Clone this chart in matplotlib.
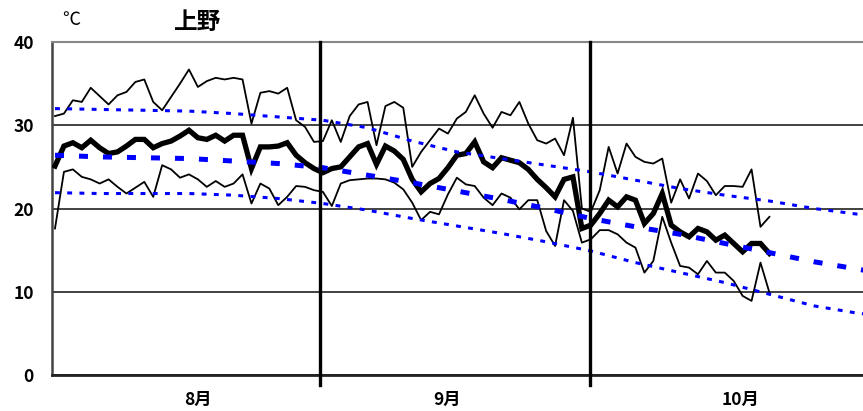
import numpy as np
import matplotlib
matplotlib.use('Agg')
import matplotlib.pyplot as plt
import matplotlib.transforms as mtransforms

plt.rcParams['font.family'] = ['Noto Sans CJK JP', 'DejaVu Sans']

# 日別データ（8/2 ～ 10/21 相当、81日分）
max_t = [31.1, 31.4, 33.0, 32.8, 34.5, 33.5, 32.5, 33.6, 34.0, 35.2, 35.5, 32.8, 31.8, 33.4, 35.0, 36.7,
         34.6, 35.3, 35.7, 35.5, 35.7, 35.5, 30.2, 33.9, 34.1, 33.8, 34.5, 30.6, 29.8, 28.0, 28.1,
         30.6, 28.0, 31.1, 32.5, 32.8, 27.6, 32.3, 32.8, 32.1, 25.0, 26.8, 28.2, 29.6, 29.0, 30.8,
         31.6, 33.6, 31.4, 29.7, 31.6, 31.2, 32.8, 30.2, 28.2, 27.8, 28.4, 26.4, 30.9, 20.0, 19.6,
         22.2, 27.4, 24.2, 27.8, 26.2, 25.6, 25.4, 26.0, 20.7, 23.5, 21.2, 24.2, 23.3, 21.6, 22.7,
         22.7, 22.6, 24.7, 17.8, 19.0]
mean_t = [25.1, 27.5, 27.9, 27.3, 28.2, 27.3, 26.6, 26.8, 27.5, 28.3, 28.3, 27.3, 27.8, 28.1, 28.7, 29.4,
          28.5, 28.3, 28.8, 28.1, 28.8, 28.8, 24.8, 27.4, 27.4, 27.5, 27.9, 26.4, 25.5, 24.8, 24.3,
          24.8, 25.0, 26.2, 27.4, 27.8, 25.3, 27.5, 26.9, 25.9, 23.5, 22.0, 23.0, 23.6, 24.9, 26.4,
          26.6, 28.0, 25.6, 24.9, 26.1, 25.8, 25.5, 24.7, 23.5, 22.5, 21.4, 23.5, 23.8, 17.6, 18.0,
          19.4, 21.0, 20.2, 21.4, 21.0, 18.2, 19.4, 21.8, 18.0, 17.2, 16.6, 17.6, 17.2, 16.2, 16.8,
          15.8, 14.8, 15.8, 15.8, 14.6]
min_t = [17.6, 24.4, 24.7, 23.8, 23.5, 23.0, 23.5, 22.6, 21.8, 22.5, 23.2, 21.4, 25.2, 24.7, 23.7, 24.1,
         23.5, 22.6, 23.3, 22.6, 23.0, 24.1, 20.6, 23.0, 22.4, 20.4, 21.4, 22.7, 22.6, 22.2, 22.0,
         20.3, 23.0, 23.4, 23.5, 23.6, 23.6, 23.5, 23.1, 22.3, 20.7, 18.6, 19.6, 19.3, 21.7, 23.7,
         22.9, 22.7, 21.3, 20.4, 21.8, 21.3, 19.9, 21.0, 21.0, 17.3, 15.5, 21.0, 19.7, 15.9, 16.3,
         17.4, 17.4, 16.9, 15.9, 15.3, 12.3, 13.7, 19.0, 15.9, 13.1, 12.9, 12.1, 13.7, 12.3, 12.3,
         11.3, 9.5, 8.9, 13.5, 9.9]

# 平年値（5日ごと）
norm_day = [0, 5, 10, 15, 20, 25, 30, 35, 40, 45, 50, 55, 60, 65, 70, 75, 80, 85, 90, 91]
norm_max = [32.0, 31.9, 31.8, 31.7, 31.4, 31.0, 30.6, 29.7, 28.1, 26.8, 26.0, 25.2, 24.4, 23.4, 22.4,
            21.6, 20.9, 20.0, 19.3, 19.2]
norm_mean = [26.4, 26.2, 26.1, 26.0, 25.7, 25.4, 24.9, 24.0, 23.1, 22.1, 21.1, 20.0, 18.8, 17.8, 16.9,
             15.8, 14.7, 13.6, 12.7, 12.5]
norm_min = [21.9, 21.8, 21.8, 21.8, 21.6, 21.2, 20.6, 19.8, 18.8, 17.9, 17.0, 16.0, 14.9, 13.5, 12.3,
            11.1, 9.7, 8.3, 7.4, 7.3]

month_labels = ['8月', '9月', '10月']
month_label_x = [16.0, 43.9, 76.8]
month_sep = [29.7, 59.9]

days = np.arange(len(mean_t))

fig = plt.figure(figsize=(8.63, 4.11), dpi=100)
ax = fig.add_axes([0.0599, 0.0876, 0.9401, 0.8102])

ax.plot(days, max_t, color='black', lw=1.3, zorder=3)
ax.plot(days, min_t, color='black', lw=1.3, zorder=3)
ax.plot(days, mean_t, color='black', lw=3.8, zorder=4, solid_joinstyle='miter')

ax.plot(norm_day, norm_max, color='#0000FF', lw=2.2, dashes=(1.6, 2.4), zorder=5)
ax.plot(norm_day, norm_min, color='#0000FF', lw=2.2, dashes=(1.6, 2.4), zorder=5)
ax.plot(norm_day, norm_mean, color='#0000FF', lw=3.6, dashes=(1.8, 3.0), zorder=5)

for x in month_sep:
    ax.axvline(x, ymin=-0.03, ymax=1, color='black', lw=2.4, zorder=6, clip_on=False)

ax.set_xlim(-0.37, 90.48)
ax.set_ylim(0, 40)
ax.set_yticks([0, 10, 20, 30, 40])
ax.set_xticks([])
ax.yaxis.grid(True, color='#333333', lw=1.3, zorder=1)
ax.set_axisbelow(True)
ax.tick_params(axis='y', length=0, pad=13, labelsize=12.5)
for lab in ax.get_yticklabels():
    lab.set_fontweight('bold')

ax.spines['right'].set_visible(False)
ax.spines['top'].set_color('#888888')
ax.spines['top'].set_linewidth(1.5)
ax.spines['left'].set_color('#444444')
ax.spines['left'].set_linewidth(1.8)
ax.spines['bottom'].set_color('#222222')
ax.spines['bottom'].set_linewidth(2.0)

trans = mtransforms.blended_transform_factory(ax.transData, ax.transAxes)
for x, lab in zip(month_label_x, month_labels):
    ax.text(x, -0.075, lab, transform=trans, ha='center', va='center',
            fontsize=12.5, fontweight='bold')

fig.text(0.082, 0.951, '℃', ha='center', va='center', fontsize=13)
fig.text(0.229, 0.946, '上野', ha='center', va='center', fontsize=17, fontweight='bold')

fig.savefig('out.png', dpi=100)
